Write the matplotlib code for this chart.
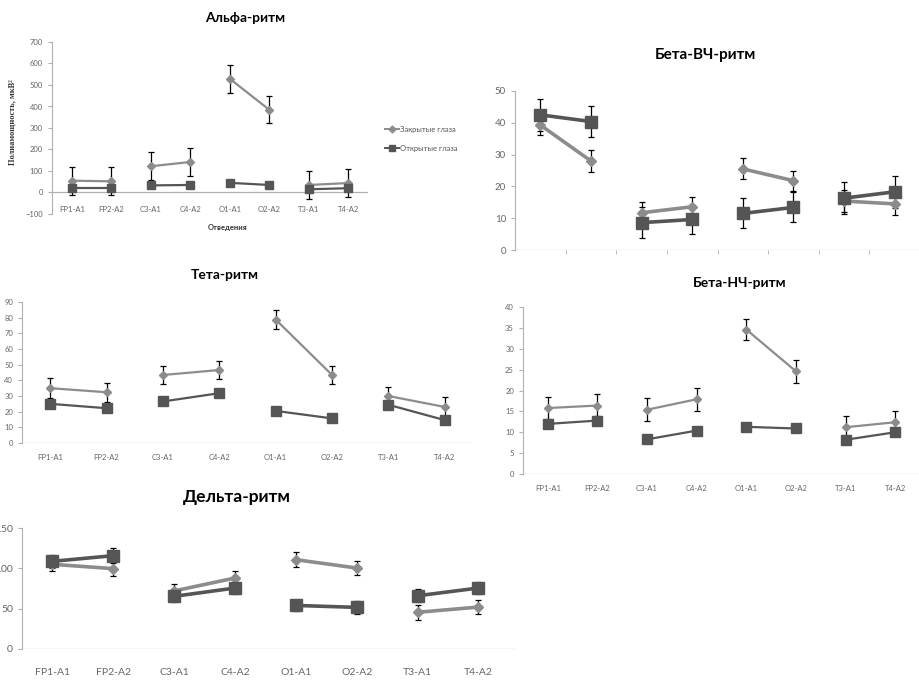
import matplotlib.pyplot as plt
import numpy as np

W, H = 920, 682
plt.rcParams['font.family'] = ['Lato', 'DejaVu Sans']

leads = ['FP1-A1', 'FP2-A2', 'C3-A1', 'C4-A2', 'O1-A1', 'O2-A2', 'T3-A1', 'T4-A2']
legend_labels = ['Закрытые глаза', 'Открытые глаза']

# Альфа-ритм
alpha_closed = [55, 52, 122, 142, 529, 385, 35, 44]
alpha_closed_err = [65, 65, 66, 67, 66, 64, 65, 64]
alpha_open = [20, 20, 33, 35, 45, 35, 15, 20]
alpha_open_err = [8, 8, 10, 8, 6, 6, 10, 10]

# Бета-ВЧ-ритм
betahf_closed = [39.3, 28, 11.7, 13.6, 25.5, 21.8, 15.4, 14.5]
betahf_closed_err = [3.2, 3.4, 3.3, 3.2, 3.3, 3.2, 3.5, 3.5]
betahf_open = [42.5, 40.4, 8.6, 9.6, 11.5, 13.4, 16.3, 18.3]
betahf_open_err = [5.0, 4.8, 4.8, 4.5, 4.7, 4.7, 5.0, 5.0]

# Тета-ритм
theta_closed = [35, 32.4, 43.4, 46.6, 78.8, 43.4, 30, 23]
theta_closed_err = [6.5, 6, 6, 6, 6, 6, 6, 6.2]
theta_open = [25, 22.2, 26.5, 31.8, 20.5, 15.7, 24.4, 14.6]
theta_open_err = [2, 1.5, 1.5, 1.5, 1.5, 1.5, 2, 2]

# Бета-НЧ-ритм
betalf_closed = [15.8, 16.4, 15.4, 17.9, 34.6, 24.6, 11.2, 12.4]
betalf_closed_err = [2.7, 2.7, 2.7, 2.7, 2.6, 2.7, 2.6, 2.8]
betalf_open = [12, 12.8, 8.3, 10.4, 11.3, 10.9, 8.2, 10]
betalf_open_err = [1, 1, 0.8, 0.8, 0.8, 0.8, 0.8, 0.8]

# Дельта-ритм
delta_closed = [105, 99.6, 72, 88, 110.7, 100.4, 45.5, 52]
delta_closed_err = [8, 9, 9, 9, 9, 9, 9, 9]
delta_open = [108.7, 115.7, 65.3, 75.6, 54, 51.6, 66, 75.6]
delta_open_err = [8, 9, 7, 8, 7, 8, 8, 8]

closed_color = '#8c8c8c'
open_color = '#555555'
tick_color = '#666666'


def px_axes(fig, left, top, right, bottom):
    return fig.add_axes([left / W, 1 - bottom / H, (right - left) / W, (bottom - top) / H])


def px_text(fig, x, y, s, **kw):
    fig.text(x / W, 1 - y / H, s, ha='center', va='center', **kw)


def draw_series(ax, vals, errs, color, marker, ms, lw):
    x = np.arange(len(vals))
    vals = np.array(vals)
    errs = np.array(errs)
    ax.errorbar(x, vals, yerr=errs, fmt='none', ecolor='black', elinewidth=0.9,
                capsize=2, capthick=0.9, zorder=2)
    # lines only join the pairs of leads
    for i in range(0, len(vals), 2):
        ax.plot(x[i:i + 2], vals[i:i + 2], color=color, lw=lw, marker=marker,
                ms=ms, mec=color, mfc=color, zorder=3)


def style_axes(ax, ylim, ystep, xlim, fs, show_xlabels=True, xlabel_pad=4):
    ax.set_xlim(*xlim)
    ax.set_ylim(*ylim)
    ax.set_yticks(np.arange(ylim[0], ylim[1] + 0.01, ystep))
    for s in ['top', 'right', 'bottom']:
        ax.spines[s].set_visible(False)
    ax.spines['left'].set_color('#b0b0b0')
    ax.axhline(0, color='#b0b0b0', lw=0.9, zorder=1)
    ax.tick_params(axis='y', colors='#b0b0b0', labelcolor=tick_color, labelsize=fs,
                   length=3, width=0.8)
    ax.set_xticks(np.arange(len(leads)))
    ax.set_xticks(np.arange(0.5, len(leads), 1), minor=True)
    if show_xlabels:
        ax.set_xticklabels(leads)
    else:
        ax.set_xticklabels([])
    ax.tick_params(axis='x', which='major', length=0, labelcolor=tick_color,
                   labelsize=fs, pad=xlabel_pad)
    ax.tick_params(axis='x', which='minor', length=0)
    ax.patch.set_alpha(0)


fig = plt.figure(figsize=(W / 100, H / 100), dpi=100)

# Альфа-ритм
ax1 = px_axes(fig, 52, 42, 368, 214)
draw_series(ax1, alpha_closed, alpha_closed_err, closed_color, 'D', 4, 1.6)
draw_series(ax1, alpha_open, alpha_open_err, open_color, 's', 6, 1.6)
style_axes(ax1, (-100, 700), 100, (-0.5, 7.5), 5.5, xlabel_pad=-6)
px_text(fig, 245, 18, 'Альфа-ритм', fontsize=10, fontweight='bold')
px_text(fig, 228, 228, 'Отведения', fontsize=5.5, fontweight='bold', color='#333333')
px_text(fig, 12, 122, 'Полиамощность, мкВ²', fontsize=6, fontweight='bold',
        rotation=90, family=['Liberation Serif', 'DejaVu Serif'], color='#333333')
h1, = ax1.plot([], [], color=closed_color, marker='D', ms=3.5, lw=1.4)
h2, = ax1.plot([], [], color=open_color, marker='s', ms=5, lw=1.4)
fig.legend([h1, h2], legend_labels, loc='center left',
           bbox_to_anchor=(378 / W, 1 - 139 / H), frameon=False, fontsize=5.5,
           handlelength=1.8, handletextpad=0.2, labelspacing=1.6, labelcolor='#555555')

# Бета-ВЧ-ритм
ax2 = px_axes(fig, 515, 91, 920, 250)
draw_series(ax2, betahf_closed, betahf_closed_err, closed_color, 'D', 5, 2.6)
draw_series(ax2, betahf_open, betahf_open_err, open_color, 's', 8, 2.6)
style_axes(ax2, (0, 50), 10, (-0.5, 7.14), 7, show_xlabels=False)
ax2.tick_params(axis='x', which='minor', length=3, color='#b0b0b0')
px_text(fig, 705, 55, 'Бета-ВЧ-ритм', fontsize=11, fontweight='bold')

# Тета-ритм
ax3 = px_axes(fig, 22, 302, 473, 443)
draw_series(ax3, theta_closed, theta_closed_err, closed_color, 'D', 4.5, 1.6)
draw_series(ax3, theta_open, theta_open_err, open_color, 's', 7, 1.6)
style_axes(ax3, (0, 90), 10, (-0.5, 7.5), 5.5, xlabel_pad=8)
px_text(fig, 225, 275, 'Тета-ритм', fontsize=10, fontweight='bold')

# Бета-НЧ-ритм
ax4 = px_axes(fig, 523, 307, 920, 474)
draw_series(ax4, betalf_closed, betalf_closed_err, closed_color, 'D', 4.5, 1.6)
draw_series(ax4, betalf_open, betalf_open_err, open_color, 's', 6.5, 1.6)
style_axes(ax4, (0, 40), 5, (-0.5, 7.45), 5.5, xlabel_pad=8)
px_text(fig, 740, 283, 'Бета-НЧ-ритм', fontsize=10, fontweight='bold')

# Дельта-ритм
ax5 = px_axes(fig, 22, 528, 515, 649)
draw_series(ax5, delta_closed, delta_closed_err, closed_color, 'D', 5, 2.6)
draw_series(ax5, delta_open, delta_open_err, open_color, 's', 8, 2.6)
style_axes(ax5, (0, 150), 50, (-0.5, 7.6), 7.5, xlabel_pad=14)
px_text(fig, 237, 497, 'Дельта-ритм', fontsize=12.5, fontweight='bold')

fig.savefig('out.png', dpi=100)
